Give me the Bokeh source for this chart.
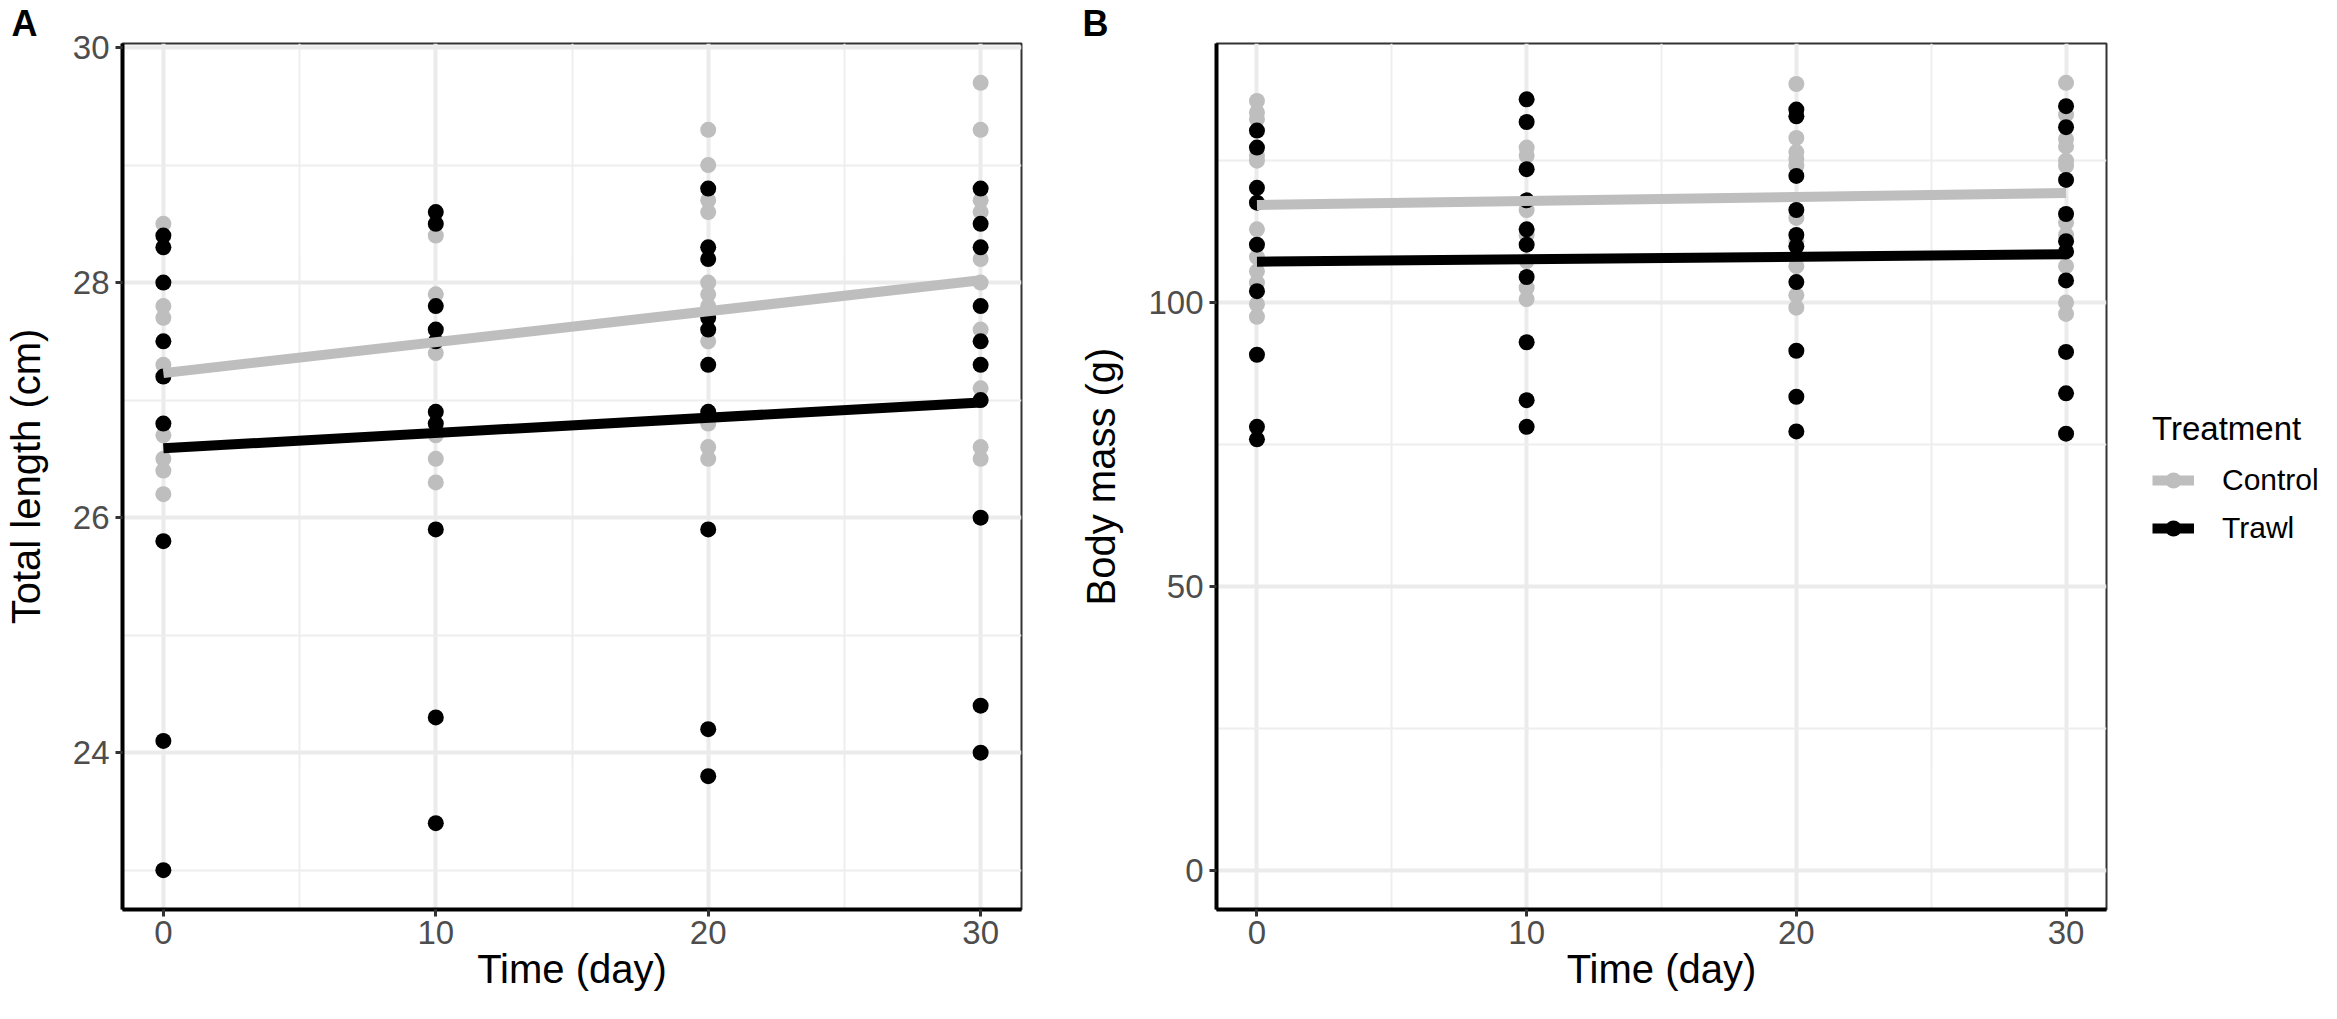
from bokeh.plotting import figure
from bokeh.layouts import row
from bokeh.models import FixedTicker, Range1d, Legend, LegendItem
from bokeh.embed import file_html
from bokeh.resources import INLINE

# ---------------- data ----------------
DAYS = [0, 10, 20, 30]
FIT_X = [0, 30]

X_TICKS = [0, 10, 20, 30]
X_MINOR = [5, 15, 25]

# Panel A: total length (cm)
LEN_CONTROL_D0 = [28.5, 27.8, 27.7, 27.3, 26.7, 26.5, 26.4, 26.2]
LEN_CONTROL_D10 = [28.4, 27.9, 27.4, 26.7, 26.5, 26.3]
LEN_CONTROL_D20 = [29.3, 29.0, 28.7, 28.6, 28.0, 27.9, 27.8, 27.5, 26.8, 26.6, 26.5]
LEN_CONTROL_D30 = [29.7, 29.3, 28.7, 28.6, 28.2, 28.0, 27.6, 27.1, 27.0, 26.6, 26.5]
LEN_TRAWL_D0 = [28.4, 28.3, 28.0, 27.5, 27.2, 26.8, 25.8, 24.1, 23.0]
LEN_TRAWL_D10 = [28.6, 28.5, 27.8, 27.6, 27.5, 26.9, 26.8, 25.9, 24.3, 23.4]
LEN_TRAWL_D20 = [28.8, 28.3, 28.2, 27.7, 27.6, 27.3, 26.9, 25.9, 24.2, 23.8]
LEN_TRAWL_D30 = [28.8, 28.5, 28.3, 27.8, 27.5, 27.3, 27.0, 26.0, 24.4, 24.0]
LEN_FIT_CONTROL = [27.23, 28.02]
LEN_FIT_TRAWL = [26.59, 26.98]
LEN_TICKS = [24, 26, 28, 30]
LEN_MINOR = [23, 25, 27, 29]
LEN_RANGE = (22.665, 30.035)

# Panel B: body mass (g)
MASS_CONTROL_D0 = [135.5, 133.5, 132.3, 125.9, 125.0, 112.9, 108.0, 105.5, 103.5, 99.7, 97.5]
MASS_CONTROL_D10 = [127.3, 125.9, 116.3, 111.9, 107.3, 102.6, 100.6]
MASS_CONTROL_D20 = [138.5, 129.0, 126.5, 125.3, 124.1, 114.9, 110.8, 106.4, 101.3, 99.1]
MASS_CONTROL_D30 = [138.7, 133.1, 128.8, 127.5, 125.0, 124.1, 114.1, 111.9, 106.4, 100.0, 98.0]
MASS_TRAWL_D0 = [130.3, 127.3, 120.2, 117.6, 110.2, 102.0, 90.8, 78.1, 75.9]
MASS_TRAWL_D10 = [135.8, 131.8, 123.5, 118.0, 112.9, 110.2, 104.5, 93.0, 82.8, 78.1]
MASS_TRAWL_D20 = [134.0, 132.8, 122.3, 116.3, 111.9, 109.9, 103.6, 91.5, 83.4, 77.3]
MASS_TRAWL_D30 = [134.6, 130.9, 121.6, 115.6, 110.8, 109.0, 103.9, 91.3, 84.0, 76.9]
MASS_FIT_CONTROL = [117.2, 119.3]
MASS_FIT_TRAWL = [107.2, 108.5]
MASS_TICKS = [0, 50, 100]
MASS_MINOR = [25, 75, 125]
MASS_RANGE = (-6.935, 145.635)

TREATMENTS = ["Control", "Trawl"]

# ---------------- style ----------------
FONT = "Liberation Sans"
GRAY = "#BEBEBE"
BLACK = "#000000"
H = 1002
TOP = 36
BOTTOM = 93
PT_SIZE = 16
LINE_W = 10


def flatten(groups):
    xs, ys = [], []
    for d, vals in zip(DAYS, groups):
        xs += [d] * len(vals)
        ys += list(vals)
    return xs, ys


def make_panel(width, bl, br, yrange, yticks, yminor, ylabel, letter, letter_offset):
    p = figure(width=width, height=H,
               x_range=Range1d(-1.5, 31.5), y_range=Range1d(*yrange),
               output_backend="svg", toolbar_location=None,
               min_border_left=bl, min_border_right=br,
               min_border_top=TOP, min_border_bottom=BOTTOM)
    p.background_fill_color = "white"
    p.border_fill_color = "white"
    p.outline_line_color = "#333333"
    p.outline_line_width = 2

    # panel letter as the figure title
    p.title.text = letter
    p.title.align = "left"
    p.title.offset = letter_offset
    p.title.standoff = 0
    p.title.text_font = FONT
    p.title.text_font_size = "36px"
    p.title.text_font_style = "bold"
    p.title.text_color = "black"

    xt = FixedTicker(ticks=X_TICKS, minor_ticks=X_MINOR)
    yt = FixedTicker(ticks=yticks, minor_ticks=yminor)
    p.xaxis.ticker = xt
    p.yaxis.ticker = yt
    p.xgrid.ticker = xt
    p.ygrid.ticker = yt

    for g in (p.xgrid[0], p.ygrid[0]):
        g.grid_line_color = "#EBEBEB"
        g.grid_line_width = 4
        g.minor_grid_line_color = "#EEEEEE"
        g.minor_grid_line_width = 2

    for ax in (p.xaxis[0], p.yaxis[0]):
        ax.axis_line_color = "black"
        ax.axis_line_width = 4
        ax.major_tick_line_color = "#333333"
        ax.major_tick_line_width = 3
        ax.major_tick_out = 7
        ax.major_tick_in = 0
        ax.minor_tick_line_color = None
        ax.major_label_text_font = FONT
        ax.major_label_text_font_size = "33px"
        ax.major_label_text_color = "#4D4D4D"
        ax.axis_label_text_font = FONT
        ax.axis_label_text_font_size = "40px"
        ax.axis_label_text_font_style = "normal"
        ax.axis_label_text_color = "black"

    p.xaxis.axis_label = "Time (day)"
    p.xaxis.major_label_standoff = 4
    p.xaxis.axis_label_standoff = 0
    p.xaxis.major_label_text_line_height = 1.0
    p.xaxis.axis_label_text_line_height = 1.0
    p.yaxis.axis_label = ylabel
    p.yaxis.major_label_standoff = 6
    p.yaxis.axis_label_standoff = 22
    return p


def add_series(p, ctrl_groups, trawl_groups, fit_ctrl, fit_trawl):
    cx, cy = flatten(ctrl_groups)
    tx, ty = flatten(trawl_groups)
    p.scatter(cx, cy, size=PT_SIZE, marker="circle", fill_color=GRAY, line_color=None)
    p.scatter(tx, ty, size=PT_SIZE, marker="circle", fill_color=BLACK, line_color=None)
    p.line(FIT_X, fit_ctrl, line_color=GRAY, line_width=LINE_W, line_cap="butt")
    p.line(FIT_X, fit_trawl, line_color=BLACK, line_width=LINE_W, line_cap="butt")


pa = make_panel(1072, 111, 51, LEN_RANGE, LEN_TICKS, LEN_MINOR,
                "Total length (cm)", "A", -111)
add_series(pa,
           [LEN_CONTROL_D0, LEN_CONTROL_D10, LEN_CONTROL_D20, LEN_CONTROL_D30],
           [LEN_TRAWL_D0, LEN_TRAWL_D10, LEN_TRAWL_D20, LEN_TRAWL_D30],
           LEN_FIT_CONTROL, LEN_FIT_TRAWL)

pb = make_panel(1044, 144, 10, MASS_RANGE, MASS_TICKS, MASS_MINOR,
                "Body mass (g)", "B", -134)
add_series(pb,
           [MASS_CONTROL_D0, MASS_CONTROL_D10, MASS_CONTROL_D20, MASS_CONTROL_D30],
           [MASS_TRAWL_D0, MASS_TRAWL_D10, MASS_TRAWL_D20, MASS_TRAWL_D30],
           MASS_FIT_CONTROL, MASS_FIT_TRAWL)

# legend-only figure to the right of panel B; its ranges keep the key
# renderers' (panel B fit) data out of view so only the legend shows
pl = figure(width=205, height=H, x_range=Range1d(1000, 1001), y_range=Range1d(1000, 1001),
            output_backend="svg", toolbar_location=None, title=None,
            x_axis_location=None, y_axis_location=None,
            min_border_left=0, min_border_right=0,
            min_border_top=0, min_border_bottom=0)
pl.outline_line_color = None
pl.background_fill_color = "white"
pl.border_fill_color = "white"
pl.xgrid.visible = False
pl.ygrid.visible = False
kc_line = pl.line(FIT_X, MASS_FIT_CONTROL, line_color=GRAY, line_width=LINE_W, line_cap="butt")
kc_pts = pl.scatter(FIT_X, MASS_FIT_CONTROL, size=PT_SIZE, marker="circle",
                    fill_color=GRAY, line_color=None)
kt_line = pl.line(FIT_X, MASS_FIT_TRAWL, line_color=BLACK, line_width=LINE_W, line_cap="butt")
kt_pts = pl.scatter(FIT_X, MASS_FIT_TRAWL, size=PT_SIZE, marker="circle",
                    fill_color=BLACK, line_color=None)

legend = Legend(
    items=[LegendItem(label=TREATMENTS[0], renderers=[kc_line, kc_pts]),
           LegendItem(label=TREATMENTS[1], renderers=[kt_line, kt_pts])],
    location=(36, 361), title="Treatment",
    border_line_color=None, background_fill_alpha=0,
    padding=0, margin=0, spacing=8,
    glyph_width=42, glyph_height=40, label_height=40, label_standoff=28,
    label_text_font=FONT, label_text_font_size="30px", label_text_color="black",
    title_text_font=FONT, title_text_font_size="33px", title_text_font_style="normal",
    title_text_color="black", title_standoff=12)
pl.add_layout(legend)

layout = row(pa, pb, pl)
open("out.html", "w").write(file_html(layout, INLINE))
